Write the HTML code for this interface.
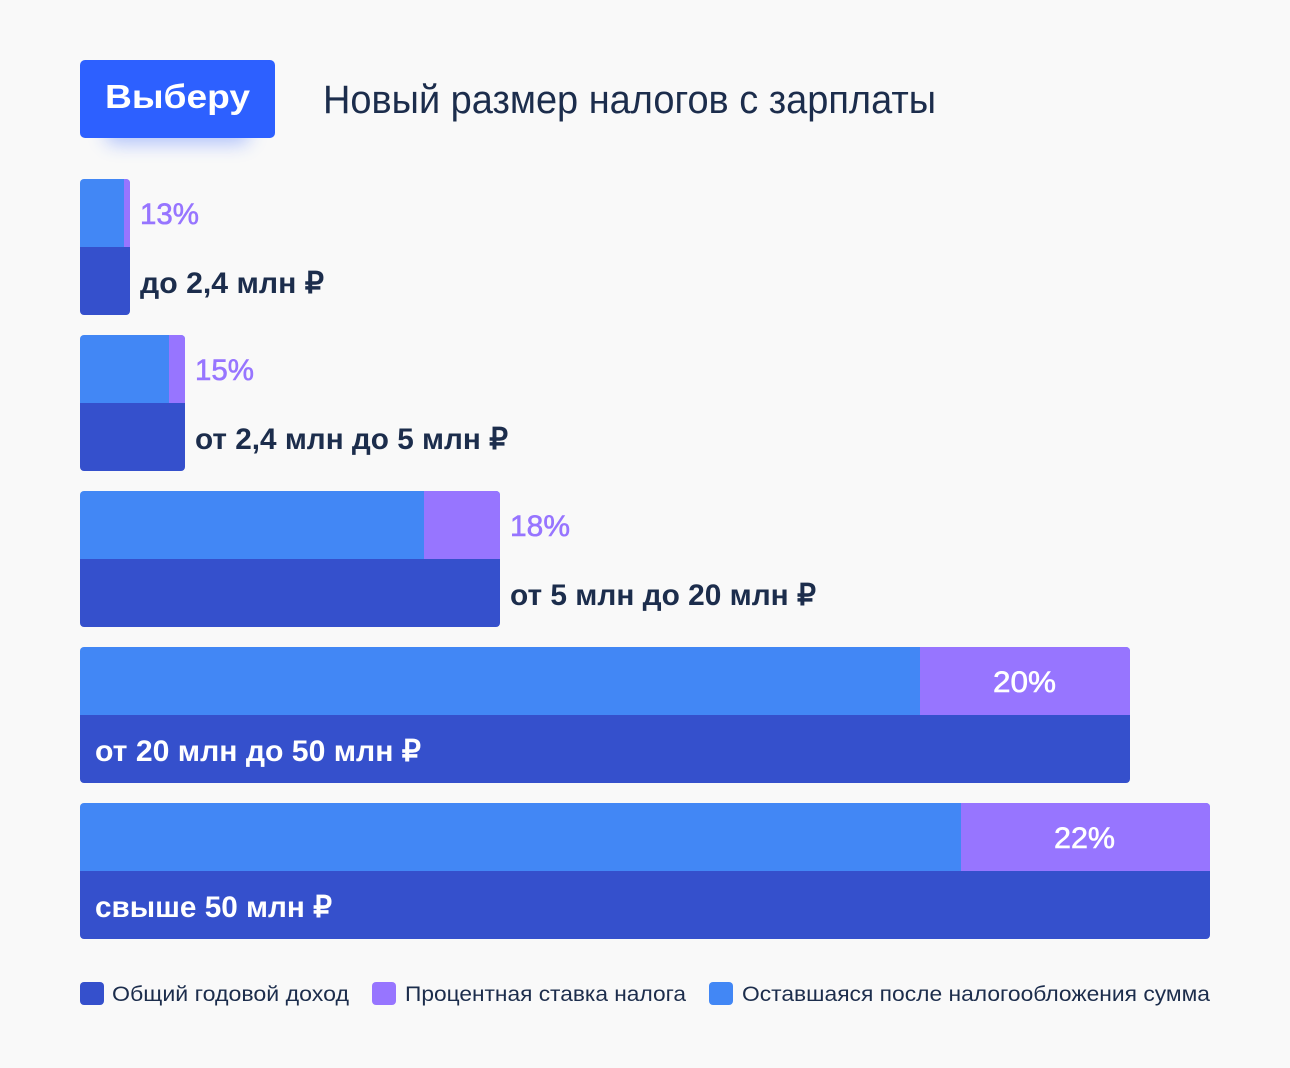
<!DOCTYPE html>
<html>
<head>
<meta charset="utf-8">
<style>
html,body{margin:0;padding:0;background:#f9f9f9;}
svg{display:block;}
text{font-family:"Liberation Sans","Noto Sans CJK SC",sans-serif;}
</style>
</head>
<body>
<svg width="1290" height="1068" viewBox="0 0 1290 1068" xmlns="http://www.w3.org/2000/svg">
<defs>
  <filter id="blur" x="-50%" y="-100%" width="200%" height="300%">
    <feGaussianBlur stdDeviation="9"/>
  </filter>
  <clipPath id="c1"><rect x="80" y="179" width="50" height="136" rx="4"/></clipPath>
  <clipPath id="c2"><rect x="80" y="335" width="105" height="136" rx="4"/></clipPath>
  <clipPath id="c3"><rect x="80" y="491" width="420" height="136" rx="4"/></clipPath>
  <clipPath id="c4"><rect x="80" y="647" width="1050" height="136" rx="4"/></clipPath>
  <clipPath id="c5"><rect x="80" y="803" width="1130" height="136" rx="4"/></clipPath>
</defs>
<rect width="1290" height="1068" fill="#f9f9f9"/>

<!-- logo -->
<rect x="105" y="118" width="145" height="26" rx="10" fill="#2d60ff" opacity="0.35" filter="url(#blur)"/>
<rect x="80" y="60" width="195" height="78" rx="5" fill="#2d60ff"/>
<text x="105" y="108" font-size="33" font-weight="bold" fill="#ffffff" textLength="145" lengthAdjust="spacingAndGlyphs">Выберу</text>

<!-- title -->
<text x="323" y="113" font-size="40" fill="#1c2d4c" textLength="613" lengthAdjust="spacingAndGlyphs">Новый размер налогов с зарплаты</text>

<!-- bar 1 -->
<g clip-path="url(#c1)">
  <rect x="80" y="179" width="50" height="68" fill="#4287f5"/>
  <rect x="124" y="179" width="6" height="68" fill="#9775ff"/>
  <rect x="80" y="247" width="50" height="68" fill="#3550cc"/>
</g>
<text x="140" y="224" font-size="30" fill="#9775ff" stroke="#9775ff" stroke-width="0.6" textLength="59" lengthAdjust="spacingAndGlyphs">13%</text>
<text x="140" y="293" font-size="30" font-weight="bold" fill="#1c2d4c" textLength="184" lengthAdjust="spacingAndGlyphs">до 2,4 млн ₽</text>

<!-- bar 2 -->
<g clip-path="url(#c2)">
  <rect x="80" y="335" width="105" height="68" fill="#4287f5"/>
  <rect x="169" y="335" width="16" height="68" fill="#9775ff"/>
  <rect x="80" y="403" width="105" height="68" fill="#3550cc"/>
</g>
<text x="195" y="380" font-size="30" fill="#9775ff" stroke="#9775ff" stroke-width="0.6" textLength="59" lengthAdjust="spacingAndGlyphs">15%</text>
<text x="195" y="449" font-size="30" font-weight="bold" fill="#1c2d4c" textLength="313" lengthAdjust="spacingAndGlyphs">от 2,4 млн до 5 млн ₽</text>

<!-- bar 3 -->
<g clip-path="url(#c3)">
  <rect x="80" y="491" width="420" height="68" fill="#4287f5"/>
  <rect x="424" y="491" width="76" height="68" fill="#9775ff"/>
  <rect x="80" y="559" width="420" height="68" fill="#3550cc"/>
</g>
<text x="510" y="536" font-size="30" fill="#9775ff" stroke="#9775ff" stroke-width="0.6" textLength="60" lengthAdjust="spacingAndGlyphs">18%</text>
<text x="510" y="605" font-size="30" font-weight="bold" fill="#1c2d4c" textLength="306" lengthAdjust="spacingAndGlyphs">от 5 млн до 20 млн ₽</text>

<!-- bar 4 -->
<g clip-path="url(#c4)">
  <rect x="80" y="647" width="1050" height="68" fill="#4287f5"/>
  <rect x="920" y="647" width="210" height="68" fill="#9775ff"/>
  <rect x="80" y="715" width="1050" height="68" fill="#3550cc"/>
</g>
<text x="993" y="692" font-size="30" fill="#ffffff" stroke="#ffffff" stroke-width="0.6" textLength="63" lengthAdjust="spacingAndGlyphs">20%</text>
<text x="95" y="761" font-size="30" font-weight="bold" fill="#ffffff" textLength="326" lengthAdjust="spacingAndGlyphs">от 20 млн до 50 млн ₽</text>

<!-- bar 5 -->
<g clip-path="url(#c5)">
  <rect x="80" y="803" width="1130" height="68" fill="#4287f5"/>
  <rect x="961" y="803" width="249" height="68" fill="#9775ff"/>
  <rect x="80" y="871" width="1130" height="68" fill="#3550cc"/>
</g>
<text x="1054" y="848" font-size="30" fill="#ffffff" stroke="#ffffff" stroke-width="0.6" textLength="61" lengthAdjust="spacingAndGlyphs">22%</text>
<text x="95" y="917" font-size="30" font-weight="bold" fill="#ffffff" textLength="237" lengthAdjust="spacingAndGlyphs">свыше 50 млн ₽</text>

<!-- legend -->
<rect x="80" y="982" width="24" height="23" rx="4" fill="#3550cc"/>
<text x="112" y="1001" font-size="21" fill="#1c2d4c" textLength="237" lengthAdjust="spacingAndGlyphs">Общий годовой доход</text>
<rect x="372" y="982" width="24" height="23" rx="4" fill="#9775ff"/>
<text x="405" y="1001" font-size="21" fill="#1c2d4c" textLength="281" lengthAdjust="spacingAndGlyphs">Процентная ставка налога</text>
<rect x="709" y="982" width="24" height="23" rx="4" fill="#4287f5"/>
<text x="742" y="1001" font-size="21" fill="#1c2d4c" textLength="468" lengthAdjust="spacingAndGlyphs">Оставшаяся после налогообложения сумма</text>
</svg>
</body>
</html>
